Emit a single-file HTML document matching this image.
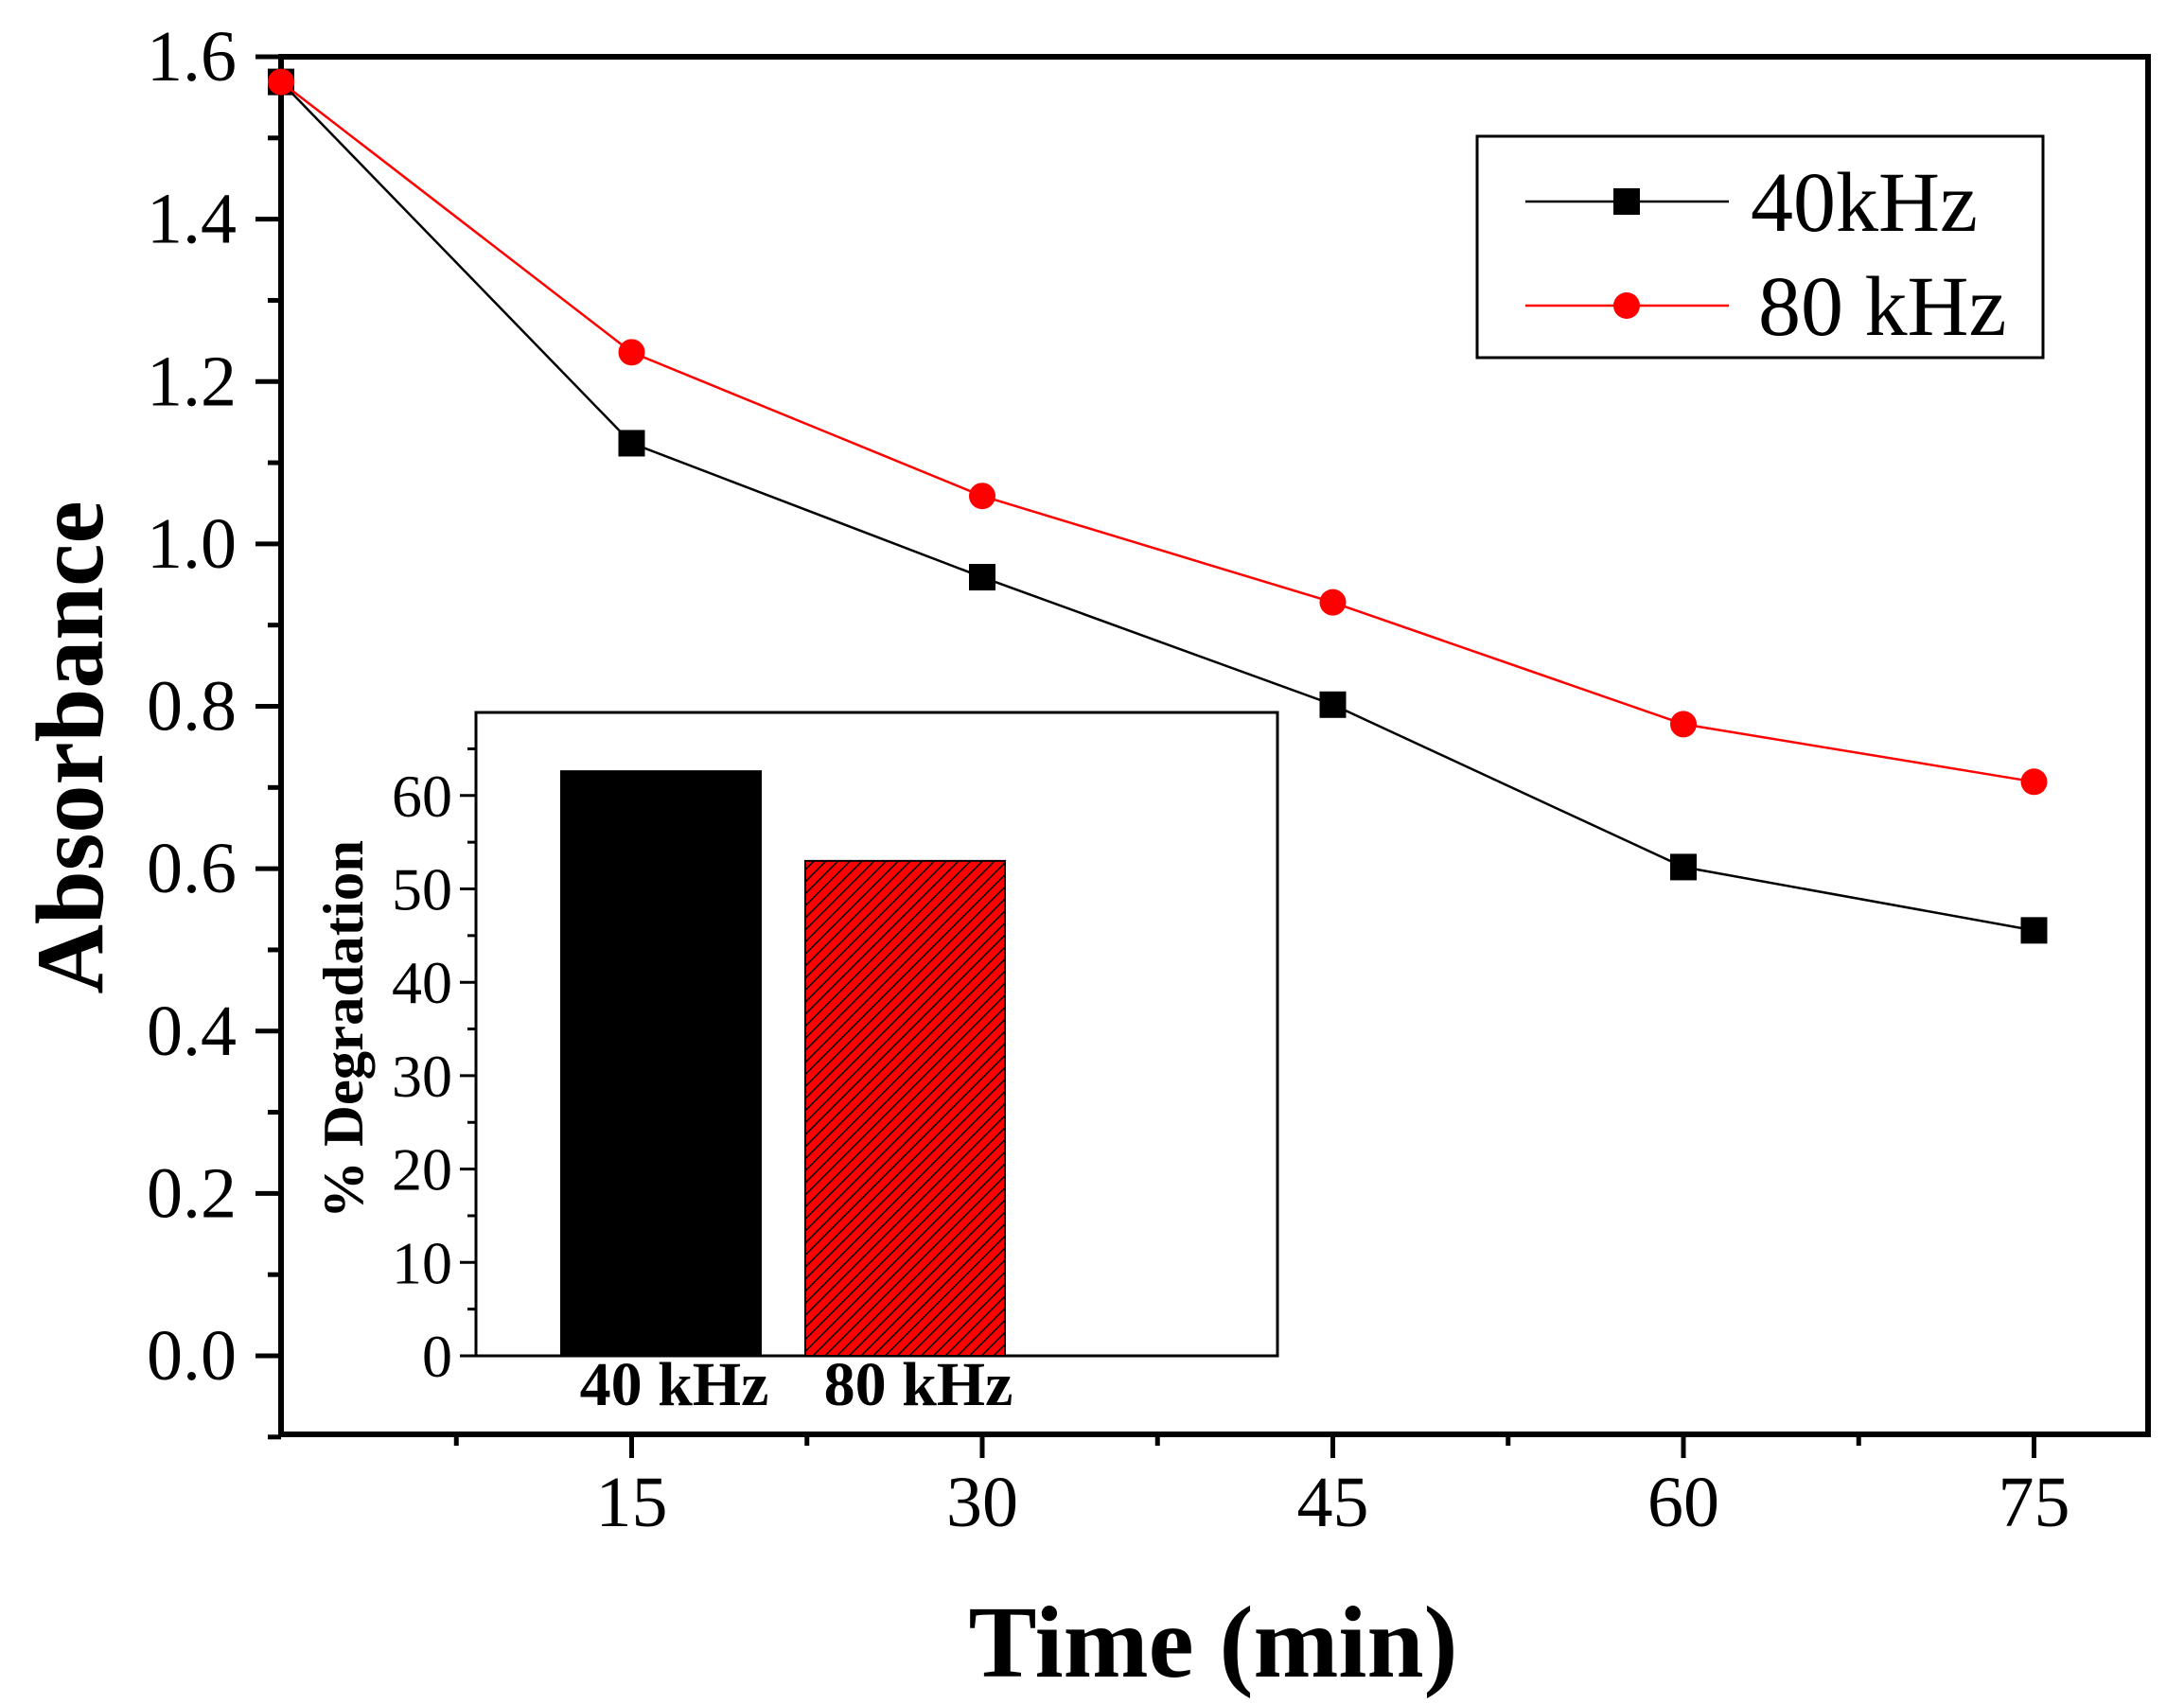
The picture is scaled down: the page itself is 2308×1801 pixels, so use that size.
<!DOCTYPE html>
<html><head><meta charset="utf-8">
<style>
html,body{margin:0;padding:0;background:#fff;}
svg{display:block;font-family:"Liberation Serif",serif;}
</style></head>
<body>
<svg id="chart" width="2308" height="1801" viewBox="0 0 2308 1801" xmlns="http://www.w3.org/2000/svg">
<defs>
<pattern id="hatch" patternUnits="userSpaceOnUse" width="9" height="9" patternTransform="rotate(45)">
<rect width="9" height="9" fill="#ff0000"/>
<line x1="0" y1="0" x2="0" y2="9" stroke="#000" stroke-width="3"/>
</pattern>
</defs>
<g id="main"></g>
</svg>
<script>
const times = [0, 15, 30, 45, 60, 75];
const abs40 = [1.569, 1.124, 0.959, 0.802, 0.602, 0.524];
const abs80 = [1.569, 1.236, 1.059, 0.928, 0.778, 0.707];
const yTicks = [0.0, 0.2, 0.4, 0.6, 0.8, 1.0, 1.2, 1.4, 1.6];
const xTicks = [15, 30, 45, 60, 75];
const seriesNames = ["40kHz", "80 kHz"];
const barCategories = ["40 kHz", "80 kHz"];
const barValues = [62.6, 53.0];
const insetTicks = [0, 10, 20, 30, 40, 50, 60];

const NS = "http://www.w3.org/2000/svg";
const root = document.getElementById("main");
function mk(tag, attrs, parent, text) {
  const e = document.createElementNS(NS, tag);
  for (const k in attrs) e.setAttribute(k, attrs[k]);
  if (text !== undefined) e.textContent = text;
  (parent || root).appendChild(e);
  return e;
}
const L = 297, R = 2270, T = 60, B = 1516;
const xS = t => 297 + (t / 15) * 370.5;
const yS = v => 1433 - v * (1433 - 60) / 1.6;

const IL = 503, IR = 1350, IT = 753, IB = 1433;
const iyS = v => IB - v * 9.87;

const inset = mk("g", {});


const ibox = mk("rect", {x: IL, y: IT, width: IR - IL, height: IB - IT, fill: "#fff", stroke: "#000", "stroke-width": 3}, inset);


insetTicks.forEach(v => {
  const tk = mk("line", {x1: 486, x2: IL, y1: iyS(v), y2: iyS(v), stroke: "#000", "stroke-width": 3}, inset);
  
  
  const lb = mk("text", {x: 478, y: iyS(v) + 22, "text-anchor": "end", "font-size": 64}, inset, String(v));
  
  
});
for (let v = 5; v <= 65; v += 10) {
  const mt = mk("line", {x1: 494, x2: IL, y1: iyS(v), y2: iyS(v), stroke: "#000", "stroke-width": 3}, inset);
  
  
}
const barX = [593, 851], barW = 211;
barValues.forEach((v, i) => {
  const b = mk("rect", {x: barX[i], y: iyS(v), width: barW, height: IB - iyS(v), fill: i === 0 ? "#000" : "url(#hatch)", stroke: "#000", "stroke-width": 2}, inset);
  
  
  const t = mk("text", {x: barX[i] + barW / 2 + 14, y: 1485, "text-anchor": "middle", "font-size": 66, "font-weight": "bold"}, inset, barCategories[i]);
  
  
});
const iyl = mk("text", {x: 0, y: 0, transform: "translate(383,1088) rotate(-90)", "text-anchor": "middle", "font-size": 60, "font-weight": "bold", textLength: 400, lengthAdjust: "spacingAndGlyphs"}, inset, "% Degradation");



const frame = mk("rect", {x: L, y: T, width: R - L, height: B - T, fill: "none", stroke: "#000", "stroke-width": 6});


yTicks.forEach(v => {
  const tk = mk("line", {x1: 270, x2: L, y1: yS(v), y2: yS(v), stroke: "#000", "stroke-width": 5});
  
  
  const lb = mk("text", {x: 250, y: yS(v) + 25, "text-anchor": "end", "font-size": 76}, root, v.toFixed(1));
  
  
});
for (let v = -0.1; v < 1.6; v += 0.2) {
  const mt = mk("line", {x1: 283, x2: L, y1: yS(v), y2: yS(v), stroke: "#000", "stroke-width": 5});
  
  
}
xTicks.forEach(t => {
  const tk = mk("line", {x1: xS(t), x2: xS(t), y1: B, y2: 1541, stroke: "#000", "stroke-width": 5});
  
  
  const lb = mk("text", {x: xS(t), y: 1613, "text-anchor": "middle", "font-size": 76}, root, String(t));
  
  
});
for (let t = 7.5; t < 80; t += 15) {
  const mt = mk("line", {x1: xS(t), x2: xS(t), y1: B, y2: 1528, stroke: "#000", "stroke-width": 5});
  
  
}
const yt = mk("text", {x: 0, y: 0, transform: "translate(108,790) rotate(-90)", "text-anchor": "middle", "font-size": 102, "font-weight": "bold"}, root, "Absorbance");


const xt = mk("text", {x: 1282, y: 1772, "text-anchor": "middle", "font-size": 108, "font-weight": "bold"}, root, "Time (min)");



function drawSeries(vals, color, kind, name) {
  const g = mk("g", {});
  
  
  const pts = times.map((t, i) => xS(t) + "," + yS(vals[i])).join(" ");
  const pl = mk("polyline", {points: pts, fill: "none", stroke: color, "stroke-width": 2.5}, g);
  
  
  times.forEach((t, i) => {
    let m;
    if (kind === "square") m = mk("rect", {x: xS(t) - 14, y: yS(vals[i]) - 14, width: 28, height: 28, fill: color}, g);
    else m = mk("circle", {cx: xS(t), cy: yS(vals[i]), r: 14, fill: color}, g);
    
    
  });
}
drawSeries(abs40, "#000", "square", "series-40khz");
drawSeries(abs80, "#ff0000", "circle", "series-80khz");

const lg = mk("g", {});


const lbx = mk("rect", {x: 1561, y: 144, width: 598, height: 234, fill: "#fff", stroke: "#000", "stroke-width": 3}, lg);


[[213, "#000", "square"], [323, "#ff0000", "circle"]].forEach((d, i) => {
  const e = mk("g", {}, lg);
  
  
  mk("line", {x1: 1612, x2: 1827, y1: d[0], y2: d[0], stroke: d[1], "stroke-width": 2.5}, e);
  if (d[2] === "square") mk("rect", {x: 1705, y: d[0] - 14, width: 28, height: 28, fill: d[1]}, e);
  else mk("circle", {cx: 1719, cy: d[0], r: 14, fill: d[1]}, e);
  mk("text", {x: i === 0 ? 1850 : 1858, y: d[0] + 31, "font-size": 90}, e, seriesNames[i]);
});
</script>
</body></html>
